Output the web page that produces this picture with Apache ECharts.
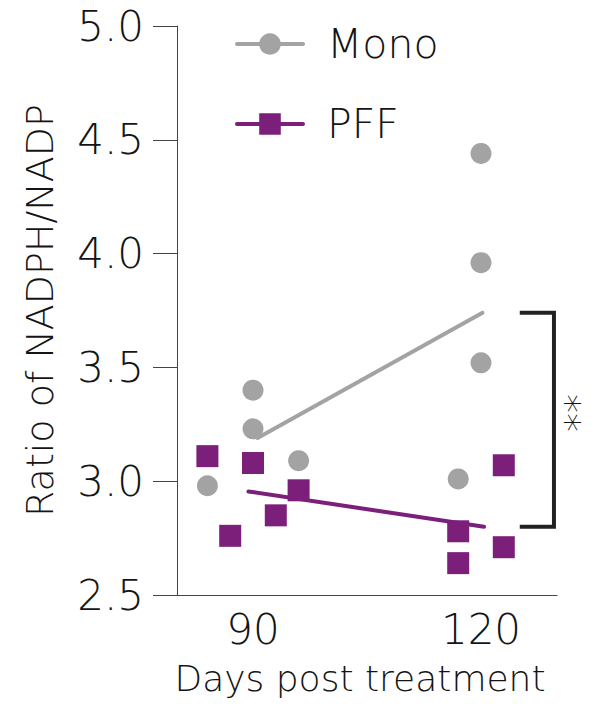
<!DOCTYPE html>
<html>
<head>
<meta charset="utf-8">
<script src="https://cdn.jsdelivr.net/npm/echarts@6/dist/echarts.min.js"></script>
<style>
  html, body { margin: 0; padding: 0; background: #fff; }
  #chart { width: 600px; height: 709px; }
</style>
</head>
<body>
<div id="chart"></div>
<script>
  // days post treatment (points are jittered around 90 and 120)
  const monoDays = [84, 90, 90, 96, 120, 120, 120, 117];
  const monoRatio = [2.98, 3.40, 3.23, 3.09, 4.44, 3.96, 3.52, 3.01];
  const pffDays = [84, 87, 90, 93, 96, 117, 117, 123, 123];
  const pffRatio = [3.11, 2.76, 3.08, 2.85, 2.96, 2.78, 2.64, 3.07, 2.71];

  // group means drawn as lines
  const meanDays = [90.6, 120.2];
  const monoMean = [3.19, 3.74];
  const pffMeanDays = [89.4, 120.4];
  const pffMean = [2.955, 2.80];

  // significance bracket between the two 120-day means
  const bracketDays = [125.1, 129.6];
  const bracketRatio = [3.74, 2.80];

  const xTicks = [90, 120];
  const yTicks = [2.5, 3.0, 3.5, 4.0, 4.5, 5.0];

  const GRAY = '#a3a3a3';
  const PURPLE = '#7b1f7b';
  const INK = '#141414';
  const FONT = 'DejaVu Sans';
  const WEIGHT = 200;

  const pairs = (xs, ys) => xs.map((x, i) => [x, ys[i]]);

  const chart = echarts.init(document.getElementById('chart'), null, { renderer: 'svg' });

  chart.setOption({
    animation: false,
    grid: { left: 177, right: 43, top: 26, bottom: 114, containLabel: false },
    legend: {
      data: ['Mono', 'PFF'],
      orient: 'vertical',
      left: 235,
      top: 22,
      padding: 0,
      itemWidth: 66,
      itemHeight: 27,
      itemGap: 36,
      lineStyle: { width: 4 },
      textStyle: {
        fontFamily: FONT,
        fontWeight: WEIGHT,
        fontSize: 41,
        lineHeight: 44,
        color: INK,
        padding: [0, 0, 0, 19],
      },
    },
    xAxis: {
      type: 'value',
      min: 80,
      max: 130,
      name: 'Days post treatment',
      nameLocation: 'middle',
      nameGap: 65,
      nameTextStyle: { fontFamily: FONT, fontWeight: WEIGHT, fontSize: 36, color: INK, padding: [0, 14, 0, 0] },
      axisLine: { show: true, lineStyle: { color: '#444', width: 1 } },
      axisTick: { show: false },
      splitLine: { show: false },
      axisLabel: {
        customValues: xTicks,
        margin: 13,
        fontFamily: FONT,
        fontWeight: WEIGHT,
        fontSize: 42,
        color: INK,
      },
    },
    yAxis: {
      type: 'value',
      min: 2.5,
      max: 5.0,
      interval: 0.5,
      name: 'Ratio of NADPH/NADP',
      nameLocation: 'middle',
      nameGap: 118,
      nameTextStyle: { fontFamily: FONT, fontWeight: WEIGHT, fontSize: 38, color: INK },
      axisLine: { show: true, lineStyle: { color: '#444', width: 1 } },
      axisTick: { show: true, inside: false, length: 24, lineStyle: { color: '#444', width: 1 } },
      splitLine: { show: false },
      axisLabel: {
        customValues: yTicks,
        margin: 33,
        fontFamily: FONT,
        fontWeight: WEIGHT,
        fontSize: 42,
        color: INK,
        formatter: (v) => v.toFixed(1),
      },
    },
    series: [
      {
        name: 'Mono',
        type: 'line',
        data: pairs(meanDays, monoMean),
        symbol: 'circle',
        showSymbol: false,
        itemStyle: { color: GRAY },
        lineStyle: { color: GRAY, width: 4, cap: 'round' },
        z: 2,
      },
      {
        name: 'PFF',
        type: 'line',
        data: pairs(pffMeanDays, pffMean),
        symbol: 'rect',
        showSymbol: false,
        itemStyle: { color: PURPLE },
        lineStyle: { color: PURPLE, width: 4, cap: 'round' },
        z: 2,
      },
      {
        name: 'Mono points',
        type: 'scatter',
        data: pairs(monoDays, monoRatio),
        symbol: 'circle',
        symbolSize: 21,
        itemStyle: { color: GRAY, opacity: 1 },
        z: 3,
      },
      {
        name: 'PFF points',
        type: 'scatter',
        data: pairs(pffDays, pffRatio),
        symbol: 'rect',
        symbolSize: 22,
        itemStyle: { color: PURPLE, opacity: 1 },
        z: 3,
      },
      {
        name: 'bracket',
        type: 'line',
        data: [
          [bracketDays[0], bracketRatio[0]],
          [bracketDays[1], bracketRatio[0]],
          [bracketDays[1], bracketRatio[1]],
          [bracketDays[0], bracketRatio[1]],
        ],
        symbol: 'none',
        lineStyle: { color: '#222', width: 4, join: 'miter' },
        z: 2,
      },
    ],
    graphic: [
      {
        type: 'text',
        x: 566,
        y: 413,
        rotation: -Math.PI / 2,
        style: {
          text: '**',
          fontFamily: FONT,
          fontWeight: WEIGHT,
          fontSize: 38,
          fill: INK,
          align: 'center',
          verticalAlign: 'middle',
        },
      },
    ],
  });
</script>
</body>
</html>
